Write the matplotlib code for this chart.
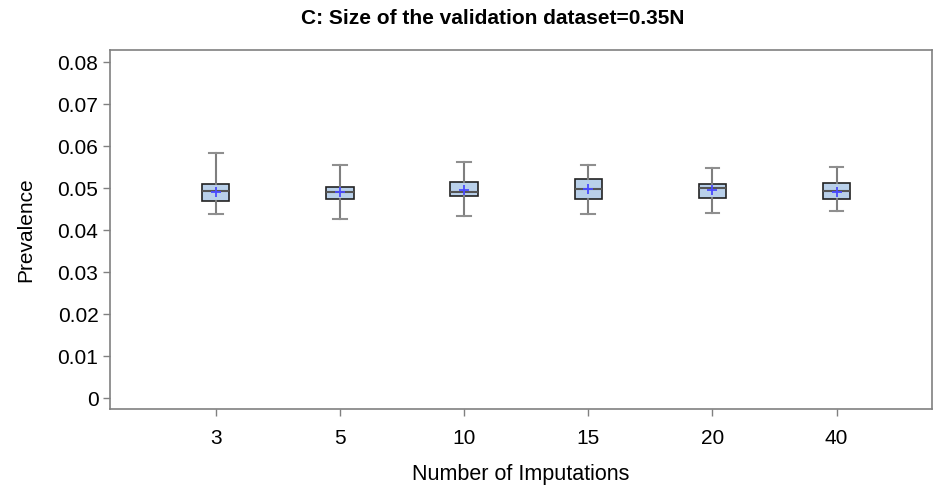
import matplotlib.pyplot as plt
import numpy as np

plt.rcParams['font.family'] = ['Liberation Sans', 'DejaVu Sans']

# Valores
imputations = ["3", "5", "10", "15", "20", "40"]
whislo = [0.0439, 0.0427, 0.0433, 0.0438, 0.0440, 0.0446]
q1 = [0.0469, 0.0474, 0.0481, 0.0475, 0.0478, 0.0475]
med = [0.0493, 0.0490, 0.0490, 0.0498, 0.0501, 0.0494]
q3 = [0.0510, 0.0502, 0.0515, 0.0521, 0.0510, 0.0512]
whishi = [0.0585, 0.0556, 0.0562, 0.0556, 0.0549, 0.0551]
means = [0.0491, 0.0490, 0.0497, 0.0498, 0.0497, 0.0492]

stats = []
for i in range(len(imputations)):
    stats.append({"whislo": whislo[i], "q1": q1[i], "med": med[i], "q3": q3[i],
                  "whishi": whishi[i], "mean": means[i], "fliers": []})

fig = plt.figure(figsize=(9.34, 4.87), dpi=100)
ax = fig.add_axes([0.118, 0.160, 0.880, 0.737])

pos = np.arange(1, len(imputations) + 1)
ax.bxp(stats, positions=pos, widths=0.22, showmeans=True, patch_artist=True,
       boxprops=dict(facecolor="#b9d0ea", edgecolor="#222222", linewidth=1.2),
       medianprops=dict(color="#555555", linewidth=1.5),
       whiskerprops=dict(color="#7f7f7f", linewidth=1.5),
       capprops=dict(color="#8f8f8f", linewidth=1.5),
       meanprops=dict(marker="+", markeredgecolor="#4a4aff", markersize=7, markeredgewidth=1.3),
       capwidths=0.11)

ax.set_xlim(0.15, 6.77)
ax.set_ylim(-0.0026, 0.0829)
ax.set_xticks(pos)
ax.set_xticklabels(imputations)
ax.set_yticks(np.arange(0, 0.081, 0.01))
ax.set_yticklabels(["0", "0.01", "0.02", "0.03", "0.04", "0.05", "0.06", "0.07", "0.08"])

for s in ax.spines.values():
    s.set_color("#808080")
    s.set_linewidth(1.2)
ax.tick_params(axis="both", colors="#808080", labelcolor="black", labelsize=15, length=5, width=1)
ax.tick_params(axis="x", pad=9)

ax.set_xlabel("Number of Imputations", fontsize=15.5, labelpad=12)
ax.set_ylabel("Prevalence", fontsize=15, labelpad=16)

fig.text(0.527, 0.962, "C: Size of the validation dataset=0.35N", ha="center", va="center",
         fontsize=15, fontweight="bold")

fig.savefig("out.png", dpi=100)
